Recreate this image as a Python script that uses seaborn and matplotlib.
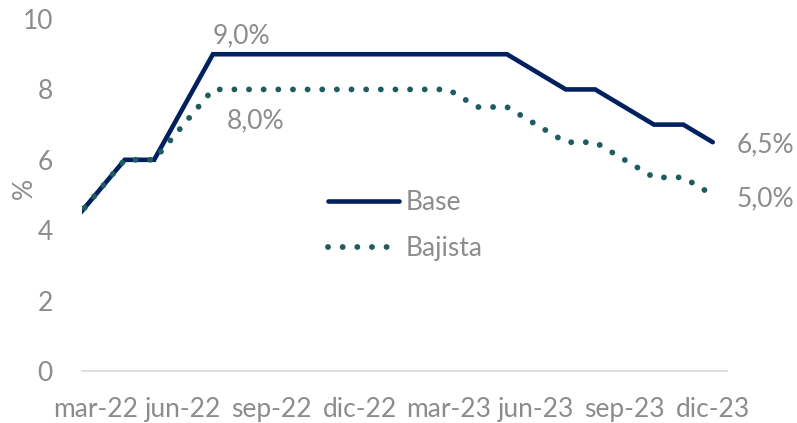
import pandas as pd
import numpy as np
import seaborn as sns
import matplotlib.pyplot as plt
from matplotlib.lines import Line2D

months = ['feb-22', 'mar-22', 'abr-22', 'may-22', 'jun-22', 'jul-22', 'ago-22', 'sep-22',
          'oct-22', 'nov-22', 'dic-22', 'ene-23', 'feb-23', 'mar-23', 'abr-23', 'may-23',
          'jun-23', 'jul-23', 'ago-23', 'sep-23', 'oct-23', 'nov-23', 'dic-23']
base = [4.0, 5.0, 6.0, 6.0, 7.5, 9.0, 9.0, 9.0, 9.0, 9.0, 9.0, 9.0, 9.0, 9.0, 9.0, 9.0,
        8.5, 8.0, 8.0, 7.5, 7.0, 7.0, 6.5]
bajista = [4.0, 5.0, 6.0, 6.0, 7.0, 8.0, 8.0, 8.0, 8.0, 8.0, 8.0, 8.0, 8.0, 8.0, 7.5, 7.5,
           7.0, 6.5, 6.5, 6.0, 5.5, 5.5, 5.0]
tick_labels = ['mar-22', 'jun-22', 'sep-22', 'dic-22', 'mar-23', 'jun-23', 'sep-23', 'dic-23']

navy = '#002060'
teal = '#1d5c60'
grey = '#8c8c8c'
dots = (0, (0.01, 2.5))

sns.set_style('white')
plt.rcParams['font.family'] = ['Lato', 'DejaVu Sans']

df = pd.DataFrame({'mes': np.arange(len(months)), 'Base': base, 'Bajista': bajista})

fig = plt.figure(figsize=(7.97, 4.23), dpi=100)
ax = fig.add_axes([0.103, 0.123, 0.809, 0.832])

sns.lineplot(data=df, x='mes', y='Base', ax=ax, color=navy, linewidth=3.3,
             solid_capstyle='round', solid_joinstyle='miter')
sns.lineplot(data=df, x='mes', y='Bajista', ax=ax, color=teal, linewidth=4.2,
             linestyle=dots, dash_capstyle='round')

ax.set_xlim(0.55, 22.48)
ax.set_ylim(0, 10)
ax.set_yticks([0, 2, 4, 6, 8, 10])
idx = [months.index(m) for m in tick_labels]
ax.set_xticks(idx)
ax.set_xticklabels(tick_labels)
ax.tick_params(axis='both', labelsize=19, colors=grey, length=0)
ax.tick_params(axis='x', pad=19)
ax.tick_params(axis='y', pad=21)
ax.set_xlabel('')
ax.set_ylabel('%', fontsize=19, color=grey)
ax.yaxis.set_label_coords(-0.07, 0.52)

for side in ['top', 'right', 'left']:
    ax.spines[side].set_visible(False)
ax.spines['bottom'].set_color('#d9d9d9')
ax.spines['bottom'].set_linewidth(1.2)

# etiquetas de datos
i_max = months.index('jul-22')
ax.annotate('9,0%', (i_max, base[i_max]), xytext=(0, 6), textcoords='offset pixels',
            ha='left', va='bottom', fontsize=19, color=grey)
ax.annotate('8,0%', (i_max, bajista[i_max]), xytext=(14, -19), textcoords='offset pixels',
            ha='left', va='top', fontsize=19, color=grey)
ax.annotate('6,5%', (len(months) - 1, base[-1]), xytext=(24, -3), textcoords='offset pixels',
            ha='left', va='center', fontsize=19, color=grey, annotation_clip=False)
ax.annotate('5,0%', (len(months) - 1, bajista[-1]), xytext=(24, -4), textcoords='offset pixels',
            ha='left', va='center', fontsize=19, color=grey, annotation_clip=False)

handles = [Line2D([], [], color=navy, linewidth=3.3, solid_capstyle='round'),
           Line2D([], [], color=teal, linewidth=4.2, linestyle=dots, dash_capstyle='round')]
leg = ax.legend(handles, ['Base', 'Bajista'], loc='upper left', bbox_to_anchor=(0.361, 0.552),
                frameon=False, fontsize=19, handlelength=2.7, handletextpad=0.25,
                labelspacing=0.8, borderpad=0)
for t in leg.get_texts():
    t.set_color(grey)

fig.savefig('out.png', dpi=100)
